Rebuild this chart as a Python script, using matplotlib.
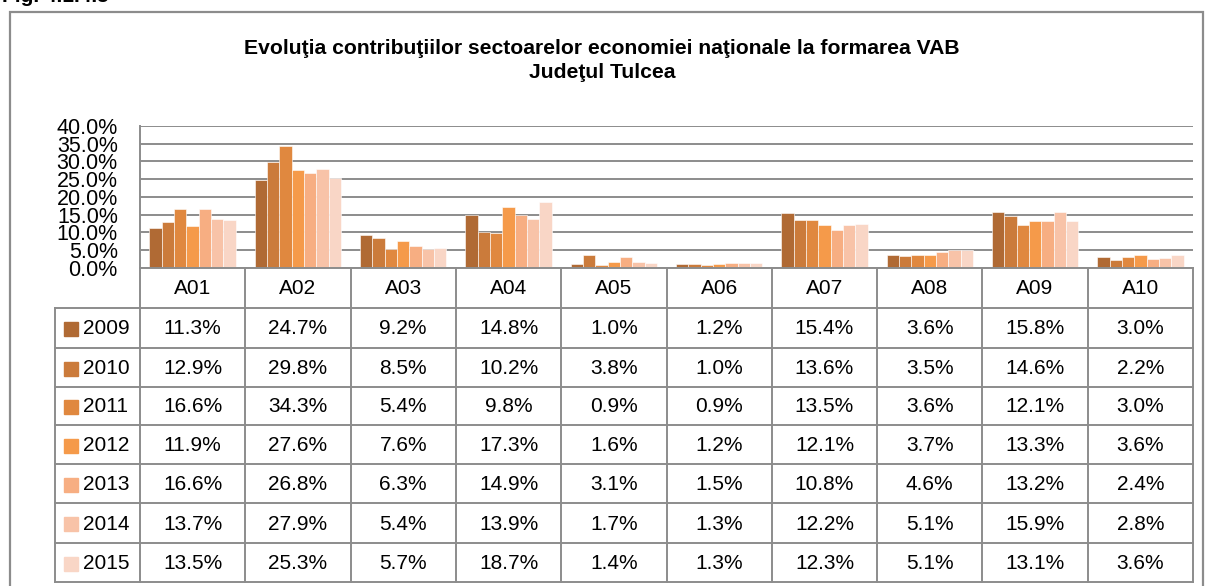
import matplotlib
matplotlib.use("Agg")
import matplotlib.pyplot as plt
from matplotlib.transforms import blended_transform_factory
from matplotlib.patches import Rectangle
import numpy as np

plt.rcParams['font.family'] = ['Liberation Sans', 'DejaVu Sans']
TS, YS = 15, 15.5

categories = ["A01", "A02", "A03", "A04", "A05", "A06", "A07", "A08", "A09", "A10"]
years = ["2009", "2010", "2011", "2012", "2013", "2014", "2015"]
v2009 = [11.3, 24.7, 9.2, 14.8, 1.0, 1.2, 15.4, 3.6, 15.8, 3.0]
v2010 = [12.9, 29.8, 8.5, 10.2, 3.8, 1.0, 13.6, 3.5, 14.6, 2.2]
v2011 = [16.6, 34.3, 5.4, 9.8, 0.9, 0.9, 13.5, 3.6, 12.1, 3.0]
v2012 = [11.9, 27.6, 7.6, 17.3, 1.6, 1.2, 12.1, 3.7, 13.3, 3.6]
v2013 = [16.6, 26.8, 6.3, 14.9, 3.1, 1.5, 10.8, 4.6, 13.2, 2.4]
v2014 = [13.7, 27.9, 5.4, 13.9, 1.7, 1.3, 12.2, 5.1, 15.9, 2.8]
v2015 = [13.5, 25.3, 5.7, 18.7, 1.4, 1.3, 12.3, 5.1, 13.1, 3.6]
series = [v2009, v2010, v2011, v2012, v2013, v2014, v2015]
colors = ["#B06A34", "#CB7B3B", "#E0883F", "#F59A4A", "#F7AE82", "#F8C3A8", "#F9D6C6"]
yticks = [0, 5, 10, 15, 20, 25, 30, 35, 40]

W, H = 1206, 586
fig = plt.figure(figsize=(W / 100, H / 100), dpi=100)

def fy(p):
    return 1 - p / H

ax_left, ax_right = 140, 1193
ax_top, ax_bot = 126, 268
ax = fig.add_axes([ax_left / W, fy(ax_bot), (ax_right - ax_left) / W, (ax_bot - ax_top) / H])

n = len(years)
group_w = 0.82
bw = group_w / n
x = np.arange(len(categories))
for i, (vals, c) in enumerate(zip(series, colors)):
    ax.bar(x - group_w / 2 + bw * (i + 0.5), vals, width=bw, color=c, edgecolor='white', linewidth=0.4, zorder=3)

ax.set_xlim(-0.5, len(categories) - 0.5)
ax.set_ylim(0, 40)
ax.set_yticks(yticks)
ax.set_yticklabels([f"{t:.1f}%" for t in yticks], fontsize=YS)
ax.tick_params(axis='y', length=0, pad=16)
ax.tick_params(axis='x', length=0, labelbottom=False)
ax.yaxis.grid(True, color='#8C8C8C', linewidth=1.4, zorder=0)
for s in ['top', 'right', 'bottom']:
    ax.spines[s].set_visible(False)
ax.spines['left'].set_color('#8C8C8C')
ax.spines['left'].set_linewidth(1.4)

tr = blended_transform_factory(ax.transData, fig.transFigure)
trf = fig.transFigure
line_c = '#8C8C8C'
row_tops = [268, 308, 348, 387, 425, 464, 503, 543, 582]
xs = np.arange(len(categories) + 1) - 0.5
for xb in xs:
    fig.add_artist(plt.Line2D([xb, xb], [fy(row_tops[0]), fy(row_tops[-1])], transform=tr, color=line_c, lw=1.4))
for k, yt in enumerate(row_tops):
    if k == 0:
        fig.add_artist(plt.Line2D([-0.5, 9.5], [fy(yt), fy(yt)], transform=tr, color=line_c, lw=1.4))
    else:
        fig.add_artist(plt.Line2D([55 / W, ax_right / W], [fy(yt), fy(yt)], transform=trf, color=line_c, lw=1.4))
fig.add_artist(plt.Line2D([55 / W, 55 / W], [fy(row_tops[1]), fy(row_tops[-1])], transform=trf, color=line_c, lw=1.4))

for j, cat in enumerate(categories):
    fig.text(j, fy((row_tops[0] + row_tops[1]) / 2 + 1), cat, transform=tr, ha='center', va='center',
             fontsize=TS)
for i, (yr, vals, c) in enumerate(zip(years, series, colors)):
    yc = fy((row_tops[i + 1] + row_tops[i + 2]) / 2 + 1)
    for j, v in enumerate(vals):
        fig.text(j, yc, f"{v:.1f}%", transform=tr, ha='center', va='center', fontsize=TS)
    fig.add_artist(Rectangle((64 / W, yc - 7 / H), 14 / W, 14 / H, transform=trf, color=c))
    fig.text(83 / W, yc, yr, transform=trf, ha='left', va='center', fontsize=TS)

fig.add_artist(Rectangle((10 / W, -0.02), (1203 - 10) / W, fy(12) + 0.02, transform=trf,
                         fill=False, edgecolor='#8C8C8C', linewidth=1.6))

fig.text(602 / W, fy(48), "Evoluţia contribuţiilor sectoarelor economiei naţionale la formarea VAB",
         ha='center', va='center', fontsize=15.2, fontweight='bold')
fig.text(602 / W, fy(73), "Judeţul Tulcea", ha='center', va='center', fontsize=15.2, fontweight='bold')

fig.text(2 / W, fy(6), "Fig. 4.1.4.5", ha='left', va='bottom', fontsize=15, fontweight='bold')

fig.savefig("out.png", dpi=100)
